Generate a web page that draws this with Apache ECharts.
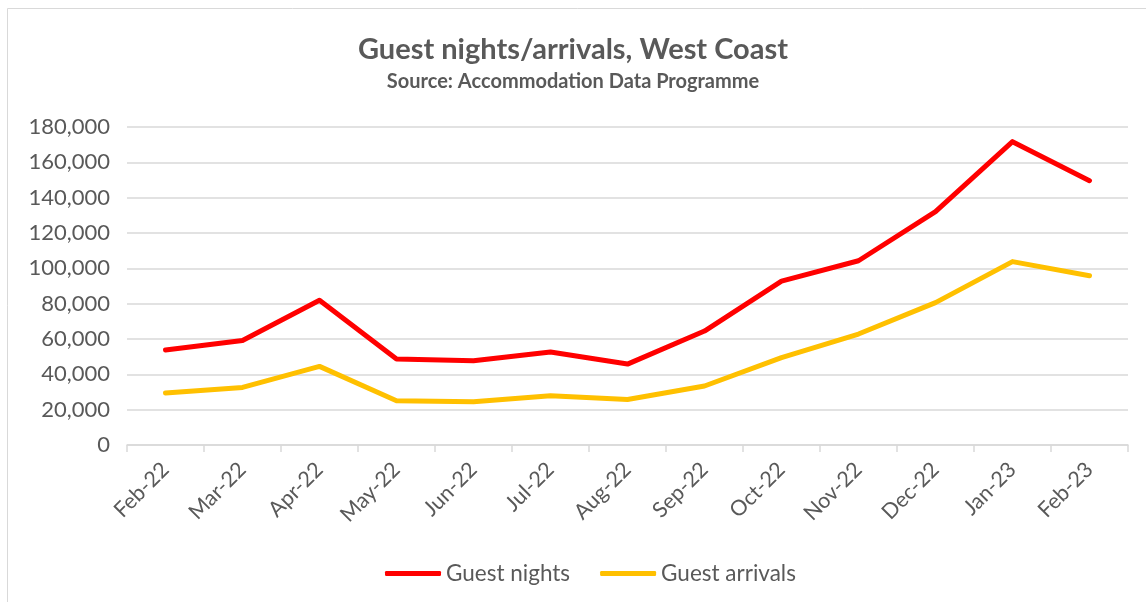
<!DOCTYPE html>
<html>
<head>
<meta charset="utf-8">
<script src="https://cdn.jsdelivr.net/npm/echarts@6/dist/echarts.min.js"></script>
<style>
  html, body { margin: 0; padding: 0; background: #fff; }
  #chart { width: 1146px; height: 602px; }
</style>
</head>
<body>
<div id="chart"></div>
<script>
var months = ['Feb-22', 'Mar-22', 'Apr-22', 'May-22', 'Jun-22', 'Jul-22', 'Aug-22',
              'Sep-22', 'Oct-22', 'Nov-22', 'Dec-22', 'Jan-23', 'Feb-23'];
var guestNights = [53800, 59100, 81900, 48700, 47700, 52600, 45800,
                   64500, 92800, 104300, 132100, 171700, 149600];
var guestArrivals = [29400, 32600, 44500, 25000, 24500, 27900, 25800,
                     33400, 49500, 62800, 80600, 103800, 95800];

var font = 'Lato, "Open Sans", sans-serif';
var grey = '#595959';

var myChart = echarts.init(document.getElementById('chart'));
var option = {
    backgroundColor: '#fff',
    animation: false,
    textStyle: { fontFamily: font },
    graphic: [{
        type: 'rect',
        shape: { x: 7.5, y: 8.5, width: 1160, height: 620 },
        style: { fill: 'none', stroke: '#d9d9d9', lineWidth: 1 },
        silent: true
    }],
    title: {
        text: 'Guest nights/arrivals, West Coast',
        subtext: 'Source: Accommodation Data Programme',
        left: 'center',
        top: 30,
        itemGap: 8,
        textStyle: { fontFamily: font, fontSize: 29, fontWeight: 'bold', color: grey },
        subtextStyle: { fontFamily: font, fontSize: 20, fontWeight: 'bold', color: grey }
    },
    legend: {
        bottom: 12,
        left: 380,
        itemWidth: 56,
        itemHeight: 5,
        itemGap: 30,
        icon: 'roundRect',
        textStyle: { fontFamily: font, fontSize: 22.5, color: grey, padding: [0, 0, 0, 0] },
        data: ['Guest nights', 'Guest arrivals']
    },
    grid: { left: 127, right: 18, top: 127, bottom: 157 },
    xAxis: {
        type: 'category',
        boundaryGap: true,
        data: months,
        axisLine: { lineStyle: { color: '#d9d9d9', width: 1.5 } },
        axisTick: { show: true, length: 7, lineStyle: { color: '#d9d9d9', width: 1.5 } },
        axisLabel: { rotate: 45, fontFamily: font, fontSize: 21.5, color: grey, margin: 21 }
    },
    yAxis: {
        type: 'value',
        min: 0,
        max: 180000,
        interval: 20000,
        axisLine: { show: false },
        axisTick: { show: false },
        splitLine: { lineStyle: { color: '#d9d9d9', width: 1.5 } },
        axisLabel: {
            fontFamily: font, fontSize: 22, color: grey, margin: 17,
            formatter: function (v) { return v.toLocaleString('en-US'); }
        }
    },
    series: [
        {
            name: 'Guest nights',
            type: 'line',
            data: guestNights,
            symbol: 'none',
            color: '#ff0000',
            lineStyle: { width: 5, color: '#ff0000', cap: 'round', join: 'round' }
        },
        {
            name: 'Guest arrivals',
            type: 'line',
            data: guestArrivals,
            symbol: 'none',
            color: '#ffc000',
            lineStyle: { width: 5, color: '#ffc000', cap: 'round', join: 'round' }
        }
    ]
};
myChart.setOption(option);
window.addEventListener('resize', function () { myChart.resize(); });
</script>
</body>
</html>
